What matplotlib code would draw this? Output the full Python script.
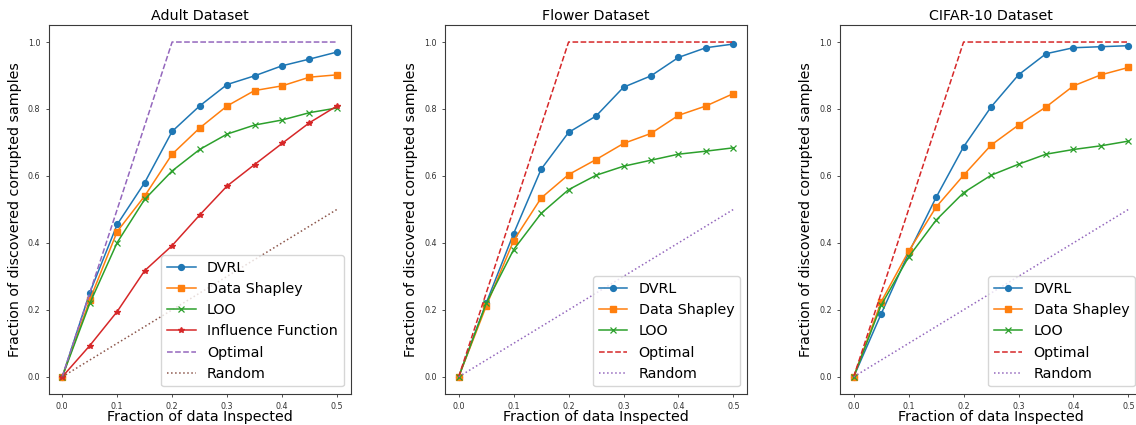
# Corrupted sample discovery curves for three datasets

import numpy as np
import matplotlib
matplotlib.use("Agg")
import matplotlib.pyplot as plt

# fraction of data inspected
x = [0.0, 0.05, 0.1, 0.15, 0.2, 0.25, 0.3, 0.35, 0.4, 0.45, 0.5]

optimal = [0.0, 0.25, 0.5, 0.75, 1.0, 1.0, 1.0, 1.0, 1.0, 1.0, 1.0]
random_sel = [0.0, 0.05, 0.1, 0.15, 0.2, 0.25, 0.3, 0.35, 0.4, 0.45, 0.5]

# Adult
adult_dvrl = [0.0, 0.251, 0.455, 0.580, 0.733, 0.809, 0.873, 0.899, 0.929, 0.949, 0.970]
adult_shap = [0.0, 0.229, 0.434, 0.540, 0.665, 0.743, 0.809, 0.855, 0.869, 0.895, 0.902]
adult_loo = [0.0, 0.219, 0.401, 0.530, 0.615, 0.679, 0.725, 0.752, 0.767, 0.789, 0.803]
adult_inf = [0.0, 0.093, 0.195, 0.317, 0.392, 0.483, 0.570, 0.634, 0.697, 0.759, 0.809]

# Flower
flower_dvrl = [0.0, 0.220, 0.428, 0.620, 0.730, 0.779, 0.865, 0.899, 0.954, 0.983, 0.994]
flower_shap = [0.0, 0.211, 0.407, 0.534, 0.604, 0.649, 0.697, 0.727, 0.781, 0.809, 0.846]
flower_loo = [0.0, 0.219, 0.380, 0.488, 0.559, 0.602, 0.629, 0.647, 0.665, 0.674, 0.684]

# CIFAR-10
cifar_dvrl = [0.0, 0.188, 0.370, 0.536, 0.687, 0.806, 0.902, 0.965, 0.983, 0.986, 0.989]
cifar_shap = [0.0, 0.224, 0.375, 0.507, 0.602, 0.692, 0.752, 0.806, 0.869, 0.902, 0.924]
cifar_loo = [0.0, 0.214, 0.358, 0.468, 0.550, 0.602, 0.635, 0.665, 0.679, 0.690, 0.704]

titles = ["Adult Dataset", "Flower Dataset", "CIFAR-10 Dataset"]

plt.rcParams["font.family"] = "DejaVu Sans"
plt.rcParams["axes.edgecolor"] = "#3a3a3a"
plt.rcParams["axes.linewidth"] = 0.8

fig = plt.figure(figsize=(11.36, 4.25), dpi=100)
lefts = [0.0427, 0.3917, 0.7394]
axes = [fig.add_axes([l, 0.074, 0.266, 0.8665]) for l in lefts]

lw = 1.1
ms = 4.2
fs = 10.3

def draw(ax, dvrl, shap, loo, inf=None):
    ax.plot(x, dvrl, "o-", color="tab:blue", lw=lw, ms=ms, label="DVRL")
    ax.plot(x, shap, "s-", color="tab:orange", lw=lw, ms=ms, label="Data Shapley")
    ax.plot(x, loo, "x-", color="tab:green", lw=lw, ms=ms, mew=0.9, label="LOO")
    if inf is not None:
        ax.plot(x, inf, "*-", color="tab:red", lw=lw, ms=ms, label="Influence Function")
        ax.plot(x, optimal, "--", color="tab:purple", lw=lw, label="Optimal")
        ax.plot(x, random_sel, ":", color="tab:brown", lw=lw, label="Random")
    else:
        ax.plot(x, optimal, "--", color="tab:red", lw=lw, label="Optimal")
        ax.plot(x, random_sel, ":", color="tab:purple", lw=lw, label="Random")

draw(axes[0], adult_dvrl, adult_shap, adult_loo, adult_inf)
draw(axes[1], flower_dvrl, flower_shap, flower_loo)
draw(axes[2], cifar_dvrl, cifar_shap, cifar_loo)

for ax, t in zip(axes, titles):
    ax.set_xlim(-0.025, 0.525)
    ax.set_ylim(-0.05, 1.05)
    ax.set_xticks([0.0, 0.1, 0.2, 0.3, 0.4, 0.5])
    ax.set_yticks([0.0, 0.2, 0.4, 0.6, 0.8, 1.0])
    ax.tick_params(labelsize=5.8, length=2.5, width=0.6, colors="#333333")
    ax.set_title(t, fontsize=fs, pad=4)
    ax.set_xlabel("Fraction of data Inspected", fontsize=fs, labelpad=-0.5)
    ax.set_ylabel("Fraction of discovered corrupted samples", fontsize=fs, labelpad=4)
    ax.legend(loc="lower right", fontsize=fs, handlelength=2.0)

fig.savefig("out.png", dpi=100)
